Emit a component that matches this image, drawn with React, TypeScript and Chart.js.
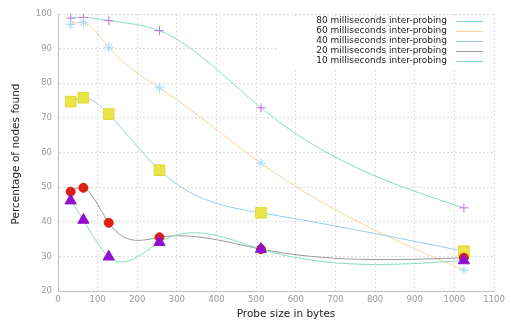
import React, { useEffect, useRef } from "react";
import { Chart, registerables } from "chart.js";

Chart.register(...registerables);

const probeSizes = [32, 64, 128, 256, 512, 1024];
const seriesLabels = [
  "80 milliseconds inter-probing",
  "60 milliseconds inter-probing",
  "40 milliseconds inter-probing",
  "20 milliseconds inter-probing",
  "10 milliseconds inter-probing",
];
const ms80 = [98.8, 99.0, 98.1, 95.2, 72.9, 44.0];
const ms60 = [97.0, 97.5, 90.4, 78.7, 56.9, 26.0];
const ms40 = [74.7, 75.8, 71.1, 54.9, 42.6, 31.5];
const ms20 = [48.7, 49.8, 39.7, 35.5, 32.1, 29.6];
const ms10 = [46.1, 40.5, 29.9, 34.1, 32.1, 28.8];

const xTitle = "Probe size in bytes";
const yTitle = "Percentage of nodes found";

const lineColors = ["#84dcbc", "#f8d49c", "#98cce8", "#999999", "#84dcbc"];

// natural cubic spline (parametrised by x) -> bezier control points on Chart.js point elements
function applyNaturalSpline(points: any[]) {
  const n = points.length - 1;
  if (n < 1) return;
  const xs = points.map((p) => p.x);
  const ys = points.map((p) => p.y);
  const h: number[] = [];
  for (let i = 0; i < n; i++) h.push(xs[i + 1] - xs[i]);
  const M = new Array(n + 1).fill(0);
  if (n > 1) {
    const a: number[] = [], b: number[] = [], c: number[] = [], d: number[] = [];
    for (let i = 1; i < n; i++) {
      a.push(h[i - 1]);
      b.push(2 * (h[i - 1] + h[i]));
      c.push(h[i]);
      d.push(6 * ((ys[i + 1] - ys[i]) / h[i] - (ys[i] - ys[i - 1]) / h[i - 1]));
    }
    const m = b.length;
    for (let i = 1; i < m; i++) {
      const w = a[i] / b[i - 1];
      b[i] -= w * c[i - 1];
      d[i] -= w * d[i - 1];
    }
    const sol = new Array(m).fill(0);
    sol[m - 1] = d[m - 1] / b[m - 1];
    for (let i = m - 2; i >= 0; i--) sol[i] = (d[i] - c[i] * sol[i + 1]) / b[i];
    for (let i = 1; i < n; i++) M[i] = sol[i - 1];
  }
  const slope: number[] = [];
  for (let i = 0; i < n; i++) slope.push((ys[i + 1] - ys[i]) / h[i] - (h[i] * (2 * M[i] + M[i + 1])) / 6);
  slope.push((ys[n] - ys[n - 1]) / h[n - 1] + (h[n - 1] * (M[n - 1] + 2 * M[n])) / 6);
  for (let i = 0; i <= n; i++) {
    const p = points[i];
    const hl = i > 0 ? h[i - 1] / 3 : 0;
    const hr = i < n ? h[i] / 3 : 0;
    p.cp1x = xs[i] - hl;
    p.cp1y = ys[i] - slope[i] * hl;
    p.cp2x = xs[i] + hr;
    p.cp2y = ys[i] + slope[i] * hr;
  }
}

export default function App() {
  const ref = useRef<HTMLCanvasElement>(null);
  useEffect(() => {
    if (!ref.current) return;
    Chart.defaults.font.family = "'DejaVu Sans', sans-serif";
    const toPts = (vals: number[]) => probeSizes.map((x, i) => ({ x, y: vals[i] }));

    const splinePlugin = {
      id: "naturalSpline",
      afterDatasetsUpdate(chart: any) {
        chart.data.datasets.forEach((_: any, i: number) => {
          const meta = chart.getDatasetMeta(i);
          applyNaturalSpline(meta.data);
          if (meta.dataset) {
            meta.dataset._pointsUpdated = true;
            meta.dataset._path = undefined;
          }
        });
      },
    };

    const overlay = {
      id: "overlay",
      afterDraw(chart: any) {
        const ctx = chart.ctx;
        ctx.save();
        ctx.fillStyle = "#ffffff";
        ctx.fillRect(277, 16, 216, 52);
        ctx.font = "9px 'DejaVu Sans'";
        ctx.textAlign = "right";
        ctx.textBaseline = "middle";
        seriesLabels.forEach((t, i) => {
          const y = 20.7 + i * 10.1;
          ctx.fillStyle = "#222";
          ctx.fillText(t, 447, y);
          ctx.fillStyle = lineColors[i];
          ctx.fillRect(456, Math.round(y), 27, 1);
        });
        ctx.fillStyle = "#222";
        ctx.font = "10.5px 'DejaVu Sans'";
        ctx.textAlign = "center";
        ctx.textBaseline = "middle";
        ctx.fillText(xTitle, 286, 314);
        ctx.translate(16, 154);
        ctx.rotate(-Math.PI / 2);
        ctx.fillText(yTitle, 0, 0);
        ctx.restore();
      },
    };

    const common = { borderWidth: 1, tension: 0.4, fill: false, pointHoverRadius: 0 };
    const chart = new Chart(ref.current, {
      type: "line",
      data: {
        datasets: [
          { ...common, label: seriesLabels[0], data: toPts(ms80), borderColor: lineColors[0], pointStyle: "cross", pointRadius: 4.5, pointBorderColor: "#c070e8", pointBackgroundColor: "#c070e8", pointBorderWidth: 1, order: 5 },
          { ...common, label: seriesLabels[1], data: toPts(ms60), borderColor: lineColors[1], pointStyle: "star", pointRadius: 5, pointBorderColor: "#a8daf0", pointBackgroundColor: "#a8daf0", pointBorderWidth: 1, order: 4 },
          { ...common, label: seriesLabels[2], data: toPts(ms40), borderColor: lineColors[2], pointStyle: "rect", pointRadius: 7.5, pointBorderColor: "#e0d838", pointBackgroundColor: "#ebe445", pointBorderWidth: 1, order: 3 },
          { ...common, label: seriesLabels[3], data: toPts(ms20), borderColor: lineColors[3], pointStyle: "circle", pointRadius: 4.5, pointBorderColor: "#dd1a10", pointBackgroundColor: "#e01e12", pointBorderWidth: 1, order: 2 },
          { ...common, label: seriesLabels[4], data: toPts(ms10), borderColor: lineColors[4], pointStyle: "triangle", pointRadius: 6.5, pointBorderColor: "#9010d0", pointBackgroundColor: "#9010d0", pointBorderWidth: 1, order: 1 },
        ],
      },
      options: {
        responsive: false,
        animation: false,
        events: [],
        layout: { padding: { top: 14, right: 16, bottom: 0, left: 0 } },
        plugins: { legend: { display: false }, tooltip: { enabled: false }, title: { display: false } },
        scales: {
          x: {
            type: "linear",
            min: 0,
            max: 1100,
            afterFit: (s: any) => { s.height = 29; },
            ticks: { stepSize: 100, color: "#999", font: { size: 8.5 }, padding: 4, maxRotation: 0, callback: (v: any) => String(v) },
            grid: { color: "#dedede", drawTicks: false, lineWidth: 1 },
            border: { display: true, color: "#c0c0c0", dash: [2, 2] },
          },
          y: {
            min: 20,
            max: 100,
            afterFit: (s: any) => { s.width = 58; },
            ticks: { stepSize: 10, color: "#999", font: { size: 8.5 }, padding: 6, callback: (v: any) => String(v) },
            grid: { color: "#dedede", drawTicks: false, lineWidth: 1 },
            border: { display: true, color: "#c0c0c0", dash: [2, 2] },
          },
        },
      },
      plugins: [splinePlugin, overlay],
    });
    return () => chart.destroy();
  }, []);
  return (
    <div style={{ position: "fixed", left: 0, top: 0, width: 510, height: 320, background: "#fff" }}>
      <canvas ref={ref} width={510} height={320} style={{ display: "block" }} />
    </div>
  );
}
